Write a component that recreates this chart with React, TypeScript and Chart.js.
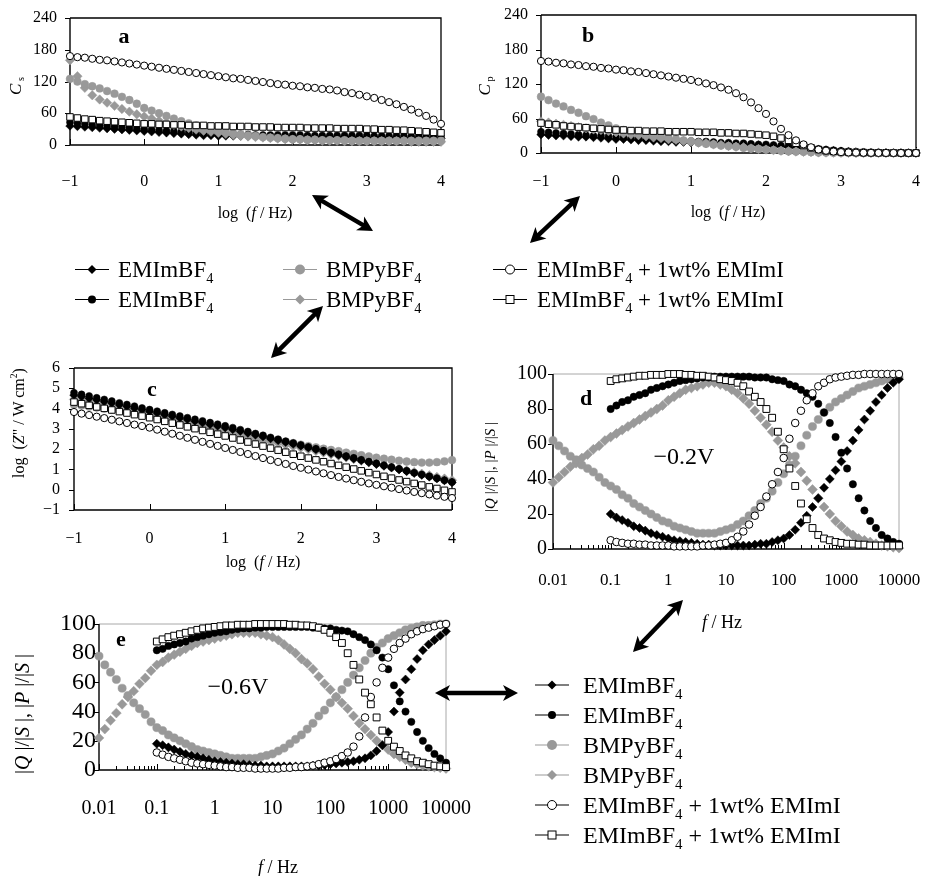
import React, { useEffect, useRef } from "react";
import { Chart, registerables } from "chart.js";
Chart.register(...registerables);

const SERIF = "'Liberation Serif', 'Times New Roman', Times, serif";
const GRAY = "#999999";

// ---------- frequency grids (log10 of f / Hz) ----------
const LOG_F = [
  -1, -0.9, -0.8, -0.7, -0.6, -0.5, -0.4, -0.3, -0.2, -0.1,
  0, 0.1, 0.2, 0.3, 0.4, 0.5, 0.6, 0.7, 0.8, 0.9,
  1, 1.1, 1.2, 1.3, 1.4, 1.5, 1.6, 1.7, 1.8, 1.9,
  2, 2.1, 2.2, 2.3, 2.4, 2.5, 2.6, 2.7, 2.8, 2.9,
  3, 3.1, 3.2, 3.3, 3.4, 3.5, 3.6, 3.7, 3.8, 3.9,
  4,
];
const LOG_F_LOW = [-2, -1.9, -1.8, -1.7, -1.6, -1.5, -1.4, -1.3, -1.2, -1.1];
const LOG_F_WIDE = [...LOG_F_LOW, ...LOG_F];

// ---------- tick labels ----------
const LOG_TICKS = [-1, 0, 1, 2, 3, 4];
const LOG_TICK_LABELS = ["\u22121", "0", "1", "2", "3", "4"];
const C_TICKS = [0, 60, 120, 180, 240];
const ZL_TICKS = [-1, 0, 1, 2, 3, 4, 5, 6];
const F_TICKS = [0.01, 0.1, 1, 10, 100, 1000, 10000];
const F_TICK_LABELS = ["0.01", "0.1", "1", "10", "100", "1000", "10000"];
const QS_TICKS = [0, 20, 40, 60, 80, 100];

// ---------- panel a : Cs ----------
const A_BLK_DIA = [36,35,34,33,32,31,30,29,28,27, 26,25,24,23,22,21,20,19,18,18, 17,17,17,17,17,17,17,16,16,16, 16,16,16,15,15,15,15,15,15,14, 14,14,14,14,13,13,13,13,12,12, 12];
const A_BLK_DOT = [43,41,40,38,37,36,35,34,33,31, 30,29,28,27,26,25,24,23,22,21, 21,20,20,20,20,19,19,19,19,19, 19,19,18,18,18,18,18,18,18,18, 18,17,17,17,17,17,16,16,16,16, 15];
const A_GRY_DOT = [125,120,115,111,107,102,97,91,85,78, 70,65,60,55,50,45,41,37,33,30, 27,25,22,20,18,17,15,14,13,12, 11,11,10,10,9,9,9,9,8,8, 8,8,8,8,8,8,8,8,8,8, 8];
const A_GRY_DIA = [160,130,108,94,86,80,74,68,63,58, 54,50,46,42,38,35,32,29,27,25, 23,21,19,17,16,15,14,13,12,11, 10,10,9,9,8,8,8,7,7,7, 7,7,7,7,7,7,6,6,6,6, 6];
const A_OPEN_CIRC = [168,166,165,163,161,160,158,156,154,152, 150,148,146,144,142,140,138,136,134,132, 130,128,126,125,123,121,119,117,115,114, 112,111,109,108,106,105,103,100,98,95, 92,89,85,81,77,72,67,61,55,48, 40];
const A_OPEN_SQ = [53,51,49,48,46,45,44,43,42,41, 40,40,39,39,38,38,37,37,37,36, 36,36,35,35,35,34,34,34,33,33, 33,33,32,32,32,32,31,31,31,31, 30,30,29,29,28,28,27,26,25,24, 23];

// ---------- panel b : Cp ----------
const B_BLK_DIA = [32,31,30,30,29,28,28,27,26,25, 24,24,23,22,22,21,20,20,19,19, 18,18,17,17,16,16,15,15,14,14, 13,12,11,10,9,8,7,6,5,4, 3,2.3,1.8,1.3,1,0.8,0.6,0.4,0.3,0.2, 0.1];
const B_BLK_DOT = [37,36,35,34,33,32,31,30,30,29, 28,27,26,26,25,24,23,23,22,21, 21,20,20,19,18,18,17,17,16,15, 15,14,13,12,11,10,8.5,7,6,5, 4,3,2.3,1.7,1.3,1,0.7,0.5,0.3,0.2, 0.1];
const B_GRY_DOT = [98,92,86,81,75,70,64,59,53,48, 43,40,37,35,32,30,28,26,24,22, 20,18,16,15,13,12,11,9,8,7, 6,5,4,3,2.5,2,1.5,1,0.8,0.5, 0.3,0.2,0.1,0,0,0,0,0,0,0, 0];
const B_GRY_DIA = [55,53,51,49,47,45,43,41,40,38, 36,34,32,31,29,27,26,24,23,21, 20,18,17,15,14,12,11,10,8,7, 6,5,4,3,2.5,2,1.5,1,0.8,0.5, 0.3,0.2,0.1,0,0,0,0,0,0,0, 0];
const B_OPEN_CIRC = [160,159,157,156,154,153,151,150,148,147, 145,144,142,141,139,137,135,133,131,129, 127,124,121,118,114,110,104,97,88,78, 68,55,42,31,22,15,10,6,4,2.5, 1.5,1,0.6,0.4,0.3,0.2,0.1,0.1,0,0, 0];
const B_OPEN_SQ = [52,50,49,47,46,45,44,43,42,41, 40,40,39,39,38,38,38,37,37,37, 37,36,36,36,35,35,34,34,33,32, 31,29,26,22,17,13,9,6,4,3, 2,1.5,1,0.7,0.5,0.4,0.3,0.2,0.1,0, 0];

// ---------- panel c : log Z'' ----------
const C_BLK_DIA = [4.66,4.58,4.50,4.42,4.34,4.26,4.18,4.10,4.02,3.94, 3.86,3.78,3.70,3.62,3.54,3.46,3.38,3.30,3.22,3.14, 3.06,2.97,2.88,2.79,2.70,2.61,2.52,2.43,2.34,2.25, 2.16,2.07,1.98,1.89,1.80,1.71,1.62,1.53,1.44,1.35, 1.26,1.17,1.08,0.99,0.90,0.81,0.72,0.63,0.54,0.45, 0.36];
const C_BLK_DOT = [4.78,4.70,4.62,4.53,4.45,4.37,4.28,4.20,4.12,4.03, 3.95,3.87,3.79,3.71,3.63,3.55,3.47,3.39,3.31,3.23, 3.15,3.06,2.96,2.87,2.77,2.68,2.58,2.49,2.39,2.30, 2.20,2.11,2.02,1.93,1.84,1.75,1.66,1.57,1.48,1.39, 1.30,1.21,1.12,1.03,0.94,0.84,0.75,0.66,0.57,0.47, 0.38];
const C_GRY_DOT = [4.20,4.15,4.10,4.05,4.00,3.95,3.90,3.85,3.80,3.75, 3.70,3.62,3.55,3.47,3.40,3.32,3.25,3.17,3.10,3.02, 2.95,2.88,2.80,2.73,2.66,2.59,2.51,2.44,2.37,2.30, 2.22,2.15,2.09,2.02,1.96,1.90,1.83,1.77,1.70,1.64, 1.58,1.53,1.48,1.43,1.39,1.36,1.34,1.34,1.36,1.40, 1.46];
const C_GRY_DIA = [4.45,4.37,4.29,4.21,4.13,4.05,3.97,3.89,3.81,3.73, 3.65,3.57,3.49,3.41,3.33,3.25,3.17,3.09,3.01,2.93, 2.85,2.77,2.69,2.61,2.53,2.45,2.37,2.30,2.22,2.14, 2.07,1.99,1.91,1.83,1.75,1.67,1.59,1.51,1.43,1.35, 1.27,1.19,1.11,1.03,0.95,0.87,0.79,0.71,0.63,0.55, 0.47];
const C_OPEN_CIRC = [3.83,3.75,3.68,3.60,3.53,3.45,3.37,3.29,3.21,3.14, 3.06,2.96,2.86,2.76,2.66,2.56,2.46,2.36,2.26,2.16, 2.06,1.96,1.86,1.76,1.66,1.56,1.46,1.37,1.27,1.17, 1.08,0.99,0.90,0.81,0.72,0.63,0.55,0.47,0.39,0.31, 0.24,0.17,0.10,0.03,-0.04,-0.11,-0.17,-0.23,-0.29,-0.35, -0.41];
const C_OPEN_SQ = [4.32,4.24,4.16,4.08,4.01,3.93,3.85,3.78,3.70,3.63, 3.55,3.46,3.37,3.28,3.19,3.10,3.01,2.92,2.83,2.74, 2.65,2.55,2.45,2.35,2.25,2.15,2.05,1.95,1.85,1.75, 1.65,1.56,1.47,1.38,1.29,1.20,1.11,1.02,0.93,0.84, 0.75,0.66,0.57,0.48,0.40,0.31,0.23,0.14,0.06,-0.03, -0.11];

// ---------- panel d : -0.2 V ----------
const D_BLK_DIA = [20,18,16.5,15,13,12,10.5,9,8,7, 6,5,4.5,4,3.5,3,2.5,2.5,2,2, 2,2,2,2,2,2.5,3,3,4,5, 6,8,11,15,19,24,29,35,40,45, 50,56,62,68,74,79,84,88,92,95, 97];
const D_BLK_DOT = [80,82,84,85,87,88,89,91,92,93, 94,95,96,96.5,97,97.5,98,98,98.5,98.5, 98.5,98.5,98.5,98.5,98.5,98,98,98,97,96.5, 96,94,93,91,89,87,83,78,72,64, 55,46,37,29,22,16,12,8,6,4, 3];
const D_GRY_DOT = [62,59,56,53,51,48,46,44,41,38, 36,34,31,29,26,24,22,20,18,16, 15,13,12,11,10,9,9,9,9,10, 11,12,14,16,19,22,26,29,33,38, 43,48,53,59,65,70,74,78,81,84, 86,88,90,92,93,94,95,96,97,98, 98];
const D_GRY_DIA = [38,41,44,47,49,52,54,57,59,62, 64,66,68,70,72,74,76,78,80,82, 85,87,89,91,92,93,94,95,95,94, 93,91,89,86,83,79,75,71,67,62, 58,53,49,44,39,34,29,24,20,16, 13,10,8,6,5,4,3,2,1.5,1, 0.5];
const D_OPEN_CIRC = [5,4,3.5,3,3,2.5,2.5,2,2,2, 2,1.5,1.5,1.5,1.5,1.5,2,2,2.5,3, 3.5,5,7,10,14,19,24,30,37,44, 52,63,72,79,85,89,93,95,97,98, 98.5,99,99.5,99.5,100,100,100,100,100,100, 100];
const D_OPEN_SQ = [96,97,97.5,98,98.5,99,99,99.5,99.5,99.5, 100,100,100,99.5,99.5,99,99,98.5,98,97, 96.5,96,95,93,90,87,84,80,75,67, 57,46,36,26,17,12,8,6,5,4, 3.5,3,3,2.5,2.5,2,2,2,2,2, 2];

// ---------- panel e : -0.6 V ----------
const E_BLK_DIA = [18,17,15.5,14,12.5,11,10,9,8,7, 6,5.5,5,4.5,4,4,3.5,3,3,2.5, 2.5,2.5,2.5,2.5,2.5,2.5,2.5,3,3,3.5, 4,4.5,5,5.5,6,7,8,10,13,17, 26,40,53,62,69,76,82,86,89,92, 95];
const E_BLK_DOT = [82,83,85,86,87,88,90,91,92,93, 94,94.5,95,96,96.5,97,97,97.5,97.5,98, 98,98,98,98,98,98,98,97.5,97.5,97, 97,96,95.5,95,93,91,89,86,82,77, 69,58,47,40,33,26,20,15,11,8, 5];
const E_GRY_DOT = [78,72,67,62,56,51,46,42,38,33, 29,27,24,22,20,18,16,14,13,12, 11,10,9,8,8,8,8,8,9,10, 11,13,15,18,21,24,28,32,37,41, 46,50,55,60,65,70,75,80,84,87, 90,92,94,96,97,98,99,99,99.5,100, 100];
const E_GRY_DIA = [22,28,34,39,45,50,54,59,63,68, 72,74,77,79,81,83,85,87,88,89, 90,91,92,93,94,94,94,94,93,92, 91,89,86,83,80,76,73,69,64,59, 55,50,46,42,37,32,28,24,20,17, 14,11,9,7,5,4,3,2.5,2,1.5, 1];
const E_OPEN_CIRC = [12,10.5,9,8,7,6,5,4.5,4,3.5, 3,2.5,2,2,1.5,1.5,1.5,1,1,1, 1,1,1.5,1.5,2,2,2.5,3,4,5, 6,7.5,9.5,12,16,23,36,50,60,70, 77,83,87,90,93,95,96.5,97.5,98.5,99.5, 100];
const E_OPEN_SQ = [88,89.5,91,92,93,94,95,96,97,97.5, 98,98.5,99,99,99.5,99.5,99.5,100,100,100, 100,100,100,99.5,99.5,99,99,98.5,97.5,96, 94,91,87,80,72,62,53,45,36,27, 20,16,13,10,8,6,5,4,3,2.5, 2];

// ---------- helpers ----------
type Kind = "blkDia" | "blkDot" | "gryDot" | "gryDia" | "openCirc" | "openSq";

interface Series { kind: Kind; x: number[]; y: number[] }

interface PanelSpec {
  id: string;
  l: number; t: number; w: number; h: number;
  yW: number; xH: number; padTop: number; padRight: number;
  xLog: boolean; xMin: number; xMax: number; xTicks: number[]; xLabels: string[];
  yMin: number; yMax: number; yTicks: number[];
  xFont: number; yFont: number; xPad: number; yPad: number;
  frameGray: boolean; mScale: number;
  series: Series[];
}

const toFreq = (arr: number[]) => arr.map((l) => Math.pow(10, l));

function markerProps(kind: Kind, s: number) {
  switch (kind) {
    case "blkDia":
      return { pointStyle: "rectRot", pointRadius: 4.3 * s, pointBackgroundColor: "#000", pointBorderColor: "#000", pointBorderWidth: 0.5 };
    case "blkDot":
      return { pointStyle: "circle", pointRadius: 3.5 * s, pointBackgroundColor: "#000", pointBorderColor: "#000", pointBorderWidth: 0.5 };
    case "gryDot":
      return { pointStyle: "circle", pointRadius: 3.9 * s, pointBackgroundColor: GRAY, pointBorderColor: GRAY, pointBorderWidth: 0.5 };
    case "gryDia":
      return { pointStyle: "rectRot", pointRadius: 4.7 * s, pointBackgroundColor: GRAY, pointBorderColor: GRAY, pointBorderWidth: 0.5 };
    case "openCirc":
      return { pointStyle: "circle", pointRadius: 3.6 * s, pointBackgroundColor: "#fff", pointBorderColor: "#000", pointBorderWidth: 1 };
    case "openSq":
    default:
      return { pointStyle: "rect", pointRadius: 4.6 * s, pointBackgroundColor: "#fff", pointBorderColor: "#000", pointBorderWidth: 1 };
  }
}

const fmtMinus = (v: number) => String(v).replace("-", "\u2212");

function framePlugin(s: PanelSpec) {
  return {
    id: "frame_" + s.id,
    beforeDatasetsDraw(chart: any) {
      const { ctx, chartArea } = chart;
      const { left, right, top, bottom } = chartArea;
      const xs = chart.scales.x;
      const ys = chart.scales.y;
      ctx.save();
      ctx.strokeStyle = s.frameGray ? "#a8a8a8" : "#000";
      ctx.lineWidth = s.frameGray ? 1 : 1.3;
      ctx.beginPath();
      ctx.moveTo(left, top);
      ctx.lineTo(right, top);
      ctx.lineTo(right, bottom);
      ctx.stroke();
      ctx.strokeStyle = "#000";
      ctx.lineWidth = 1.4;
      ctx.beginPath();
      ctx.moveTo(left, top);
      ctx.lineTo(left, bottom);
      ctx.lineTo(right, bottom);
      ctx.stroke();
      ctx.lineWidth = 1;
      ctx.beginPath();
      for (const v of s.yTicks) {
        const py = Math.round(ys.getPixelForValue(v)) + 0.5;
        ctx.moveTo(left - 5, py);
        ctx.lineTo(left, py);
      }
      for (const v of s.xTicks) {
        const px = Math.round(xs.getPixelForValue(v)) + 0.5;
        ctx.moveTo(px, bottom);
        ctx.lineTo(px, bottom - 6);
      }
      if (s.xLog) {
        for (let n = -2; n < 4; n++) {
          for (let k = 2; k < 10; k++) {
            const px = Math.round(xs.getPixelForValue(k * Math.pow(10, n))) + 0.5;
            ctx.moveTo(px, bottom);
            ctx.lineTo(px, bottom - 4);
          }
        }
      }
      ctx.stroke();
      ctx.restore();
    },
  };
}

function buildConfig(s: PanelSpec): any {
  const datasets = s.series.map((se) => ({
    data: se.x.map((x, i) => ({ x, y: se.y[i] })),
    showLine: false,
    clip: false,
    ...markerProps(se.kind, s.mScale),
  }));
  return {
    type: "scatter",
    data: { datasets },
    options: {
      responsive: false,
      animation: false,
      devicePixelRatio: 1,
      events: [],
      layout: { padding: { top: s.padTop, right: s.padRight, left: 0, bottom: 0 } },
      plugins: { legend: { display: false }, tooltip: { enabled: false }, title: { display: false } },
      scales: {
        x: {
          type: s.xLog ? "logarithmic" : "linear",
          min: s.xMin,
          max: s.xMax,
          grid: { display: false, drawTicks: false, tickLength: 0 },
          border: { display: false },
          afterBuildTicks: (sc: any) => {
            sc.ticks = s.xTicks.map((v) => ({ value: v }));
          },
          afterFit: (sc: any) => {
            sc.height = s.xH;
            sc.paddingLeft = 0;
            sc.paddingRight = 0;
          },
          ticks: {
            autoSkip: false,
            maxRotation: 0,
            minRotation: 0,
            padding: s.xPad,
            color: "#000",
            font: { family: SERIF, size: s.xFont },
            callback: (_v: any, i: number) => s.xLabels[i],
          },
        },
        y: {
          type: "linear",
          min: s.yMin,
          max: s.yMax,
          grid: { display: false, drawTicks: false, tickLength: 0 },
          border: { display: false },
          afterBuildTicks: (sc: any) => {
            sc.ticks = s.yTicks.map((v) => ({ value: v }));
          },
          afterFit: (sc: any) => {
            sc.width = s.yW;
            sc.paddingTop = 0;
            sc.paddingBottom = 0;
          },
          ticks: {
            autoSkip: false,
            padding: s.yPad,
            color: "#000",
            font: { family: SERIF, size: s.yFont },
            callback: (v: any) => fmtMinus(Number(v)),
          },
        },
      },
    },
    plugins: [framePlugin(s)],
  };
}

const FREQ = toFreq(LOG_F);
const FREQ_WIDE = toFreq(LOG_F_WIDE);

const PANELS: PanelSpec[] = [
  {
    id: "a", l: 20, t: 6, w: 431, h: 189, yW: 50, xH: 50, padTop: 12, padRight: 10,
    xLog: false, xMin: -1, xMax: 4, xTicks: LOG_TICKS, xLabels: LOG_TICK_LABELS,
    yMin: 0, yMax: 240, yTicks: C_TICKS, xFont: 16, yFont: 16, xPad: 27, yPad: 13,
    frameGray: false, mScale: 1,
    series: [
      { kind: "openCirc", x: LOG_F, y: A_OPEN_CIRC },
      { kind: "openSq", x: LOG_F, y: A_OPEN_SQ },
      { kind: "gryDot", x: LOG_F, y: A_GRY_DOT },
      { kind: "gryDia", x: LOG_F, y: A_GRY_DIA },
      { kind: "blkDot", x: LOG_F, y: A_BLK_DOT },
      { kind: "blkDia", x: LOG_F, y: A_BLK_DIA },
    ],
  },
  {
    id: "b", l: 491, t: 5, w: 434, h: 193, yW: 50, xH: 45, padTop: 10, padRight: 9,
    xLog: false, xMin: -1, xMax: 4, xTicks: LOG_TICKS, xLabels: LOG_TICK_LABELS,
    yMin: 0, yMax: 240, yTicks: C_TICKS, xFont: 16, yFont: 16, xPad: 19, yPad: 13,
    frameGray: false, mScale: 1,
    series: [
      { kind: "openCirc", x: LOG_F, y: B_OPEN_CIRC },
      { kind: "openSq", x: LOG_F, y: B_OPEN_SQ },
      { kind: "gryDot", x: LOG_F, y: B_GRY_DOT },
      { kind: "gryDia", x: LOG_F, y: B_GRY_DIA },
      { kind: "blkDot", x: LOG_F, y: B_BLK_DOT },
      { kind: "blkDia", x: LOG_F, y: B_BLK_DIA },
    ],
  },
  {
    id: "c", l: 29, t: 358, w: 433, h: 197, yW: 45, xH: 45, padTop: 10, padRight: 10,
    xLog: false, xMin: -1, xMax: 4, xTicks: LOG_TICKS, xLabels: LOG_TICK_LABELS,
    yMin: -1, yMax: 6, yTicks: ZL_TICKS, xFont: 16, yFont: 16, xPad: 19, yPad: 14,
    frameGray: false, mScale: 1,
    series: [
      { kind: "openCirc", x: LOG_F, y: C_OPEN_CIRC },
      { kind: "openSq", x: LOG_F, y: C_OPEN_SQ },
      { kind: "blkDot", x: LOG_F, y: C_BLK_DOT },
      { kind: "blkDia", x: LOG_F, y: C_BLK_DIA },
      { kind: "gryDot", x: LOG_F, y: C_GRY_DOT },
      { kind: "gryDia", x: LOG_F, y: C_GRY_DIA },
    ],
  },
  {
    id: "d", l: 503, t: 362, w: 422, h: 232, yW: 50, xH: 45, padTop: 12, padRight: 26,
    xLog: true, xMin: 0.01, xMax: 10000, xTicks: F_TICKS, xLabels: F_TICK_LABELS,
    yMin: 0, yMax: 100, yTicks: QS_TICKS, xFont: 17, yFont: 20, xPad: 21, yPad: 6,
    frameGray: true, mScale: 1.05,
    series: [
      { kind: "openSq", x: FREQ, y: D_OPEN_SQ },
      { kind: "openCirc", x: FREQ, y: D_OPEN_CIRC },
      { kind: "blkDot", x: FREQ, y: D_BLK_DOT },
      { kind: "blkDia", x: FREQ, y: D_BLK_DIA },
      { kind: "gryDot", x: FREQ_WIDE, y: D_GRY_DOT },
      { kind: "gryDia", x: FREQ_WIDE, y: D_GRY_DIA },
    ],
  },
  {
    id: "e", l: 44, t: 610, w: 428, h: 215, yW: 55, xH: 55, padTop: 14, padRight: 26,
    xLog: true, xMin: 0.01, xMax: 10000, xTicks: F_TICKS, xLabels: F_TICK_LABELS,
    yMin: 0, yMax: 100, yTicks: QS_TICKS, xFont: 20, yFont: 24, xPad: 27, yPad: 3,
    frameGray: true, mScale: 1.05,
    series: [
      { kind: "openSq", x: FREQ, y: E_OPEN_SQ },
      { kind: "openCirc", x: FREQ, y: E_OPEN_CIRC },
      { kind: "blkDot", x: FREQ, y: E_BLK_DOT },
      { kind: "blkDia", x: FREQ, y: E_BLK_DIA },
      { kind: "gryDot", x: FREQ_WIDE, y: E_GRY_DOT },
      { kind: "gryDia", x: FREQ_WIDE, y: E_GRY_DIA },
    ],
  },
];

function ChartPanel({ spec }: { spec: PanelSpec }) {
  const ref = useRef<HTMLCanvasElement>(null);
  useEffect(() => {
    const chart = new Chart(ref.current as HTMLCanvasElement, buildConfig(spec));
    return () => chart.destroy();
  }, [spec]);
  return (
    <canvas
      ref={ref}
      width={spec.w}
      height={spec.h}
      style={{ position: "absolute", left: spec.l, top: spec.t, width: spec.w, height: spec.h }}
    />
  );
}

// ---------- overlay text ----------
function T(props: { x: number; y: number; size: number; bold?: boolean; rot?: boolean; children: any }) {
  return (
    <div
      style={{
        position: "absolute",
        left: props.x,
        top: props.y,
        transform: `translate(-50%, -50%)${props.rot ? " rotate(-90deg)" : ""}`,
        fontSize: props.size,
        fontWeight: props.bold ? "bold" : "normal",
        whiteSpace: "nowrap",
        lineHeight: 1,
      }}
    >
      {props.children}
    </div>
  );
}

const Sub = ({ children }: { children: any }) => (
  <span style={{ fontSize: "0.62em", position: "relative", top: "0.4em" }}>{children}</span>
);

function LegendMarker({ kind }: { kind: Kind }) {
  const gray = kind === "gryDot" || kind === "gryDia";
  const c = gray ? GRAY : "#000";
  let m: any = null;
  if (kind === "blkDia" || kind === "gryDia")
    m = <polygon points={gray ? "17,3 22,8 17,13 12,8" : "17,3.5 21.5,8 17,12.5 12.5,8"} fill={c} />;
  else if (kind === "blkDot") m = <circle cx={17} cy={8} r={4} fill="#000" />;
  else if (kind === "gryDot") m = <circle cx={17} cy={8} r={5} fill={GRAY} />;
  else if (kind === "openCirc") m = <circle cx={17} cy={8} r={4.5} fill="#fff" stroke="#000" strokeWidth={1} />;
  else m = <rect x={13} y={4} width={8} height={8} fill="#fff" stroke="#000" strokeWidth={1} />;
  return (
    <svg width={34} height={16} style={{ display: "block", flex: "none" }}>
      <line x1={0} y1={8} x2={34} y2={8} stroke={c} strokeWidth={1.2} />
      {m}
    </svg>
  );
}

const LBL_EMIM = (
  <>
    EMImBF<Sub>4</Sub>
  </>
);
const LBL_BMPY = (
  <>
    BMPyBF<Sub>4</Sub>
  </>
);
const LBL_MIX = (
  <>
    EMImBF<Sub>4</Sub> + 1wt% EMImI
  </>
);

function LegendItem(props: { x: number; y: number; kind: Kind; gap: number; size: number; children: any }) {
  return (
    <div
      style={{
        position: "absolute",
        left: props.x,
        top: props.y,
        transform: "translateY(-50%)",
        display: "flex",
        alignItems: "center",
        whiteSpace: "nowrap",
        fontSize: props.size,
        lineHeight: 1,
      }}
    >
      <LegendMarker kind={props.kind} />
      <span style={{ marginLeft: props.gap }}>{props.children}</span>
    </div>
  );
}

function Arrow({ x1, y1, x2, y2 }: { x1: number; y1: number; x2: number; y2: number }) {
  const dx = x2 - x1;
  const dy = y2 - y1;
  const L = Math.hypot(dx, dy);
  const ux = dx / L;
  const uy = dy / L;
  const px = -uy;
  const py = ux;
  const hl = 15;
  const hw = 8;
  const head = (tx: number, ty: number, sx: number, sy: number) => {
    const bx = tx - sx * hl;
    const by = ty - sy * hl;
    return `${tx},${ty} ${bx + px * hw},${by + py * hw} ${bx + sx * 4},${by + sy * 4} ${bx - px * hw},${by - py * hw}`;
  };
  return (
    <g>
      <line x1={x1 + ux * 10} y1={y1 + uy * 10} x2={x2 - ux * 10} y2={y2 - uy * 10} stroke="#000" strokeWidth={4.5} />
      <polygon points={head(x2, y2, ux, uy)} fill="#000" />
      <polygon points={head(x1, y1, -ux, -uy)} fill="#000" />
    </g>
  );
}

export default function App() {
  return (
    <div
      style={{
        position: "absolute",
        left: 0,
        top: 0,
        width: 925,
        height: 876,
        background: "#fff",
        fontFamily: SERIF,
        color: "#000",
        overflow: "hidden",
      }}
    >
      {PANELS.map((p) => (
        <ChartPanel key={p.id} spec={p} />
      ))}

      <svg width={925} height={876} style={{ position: "absolute", left: 0, top: 0, pointerEvents: "none" }}>
        <Arrow x1={312} y1={195} x2={373} y2={231} />
        <Arrow x1={530} y1={243} x2={580} y2={196} />
        <Arrow x1={271} y1={358} x2={323} y2={306} />
        <Arrow x1={633} y1={652} x2={683} y2={600} />
        <Arrow x1={435} y1={693} x2={518} y2={693} />
      </svg>

      {/* panel letters */}
      <T x={124} y={36} size={22} bold>a</T>
      <T x={588} y={35} size={22} bold>b</T>
      <T x={152} y={389} size={22} bold>c</T>
      <T x={586} y={398} size={22} bold>d</T>
      <T x={121} y={639} size={22} bold>e</T>

      <T x={684} y={456} size={24}>{"\u22120.2V"}</T>
      <T x={238} y={686} size={24}>{"\u22120.6V"}</T>

      {/* axis titles */}
      <T x={255} y={213} size={16}>log{"\u00a0"} (<i>f</i> / Hz)</T>
      <T x={728} y={212} size={16}>log{"\u00a0"} (<i>f</i> / Hz)</T>
      <T x={263} y={562} size={16}>log{"\u00a0"} (<i>f</i> / Hz)</T>
      <T x={722} y={622} size={18}><i>f</i> / Hz</T>
      <T x={278} y={867} size={18}><i>f</i> / Hz</T>

      <T x={15} y={86} size={17} rot>
        <i>C</i>
        <span style={{ fontSize: "0.6em", position: "relative", top: "0.3em" }}> s</span>
      </T>
      <T x={484} y={86} size={17} rot>
        <i>C</i>
        <span style={{ fontSize: "0.6em", position: "relative", top: "0.3em" }}> p</span>
      </T>
      <T x={18} y={423} size={16} rot>
        log{"\u00a0"} (<i>Z</i>" / W cm<sup style={{ fontSize: "0.6em" }}>2</sup>)
      </T>
      <T x={490} y={467} size={15} rot>
        |<i>Q</i> |/|<i>S</i> |, |<i>P</i> |/|<i>S</i> |
      </T>
      <T x={22} y={714} size={20} rot>
        |<i>Q</i> |/|<i>S</i> |, |<i>P</i> |/|<i>S</i> |
      </T>

      {/* legend top */}
      <LegendItem x={75} y={269} kind="blkDia" gap={9} size={23}>{LBL_EMIM}</LegendItem>
      <LegendItem x={75} y={299} kind="blkDot" gap={9} size={23}>{LBL_EMIM}</LegendItem>
      <LegendItem x={283} y={269} kind="gryDot" gap={9} size={23}>{LBL_BMPY}</LegendItem>
      <LegendItem x={283} y={299} kind="gryDia" gap={9} size={23}>{LBL_BMPY}</LegendItem>
      <LegendItem x={493} y={269} kind="openCirc" gap={10} size={23}>{LBL_MIX}</LegendItem>
      <LegendItem x={493} y={299} kind="openSq" gap={10} size={23}>{LBL_MIX}</LegendItem>

      {/* legend bottom right */}
      <LegendItem x={535} y={685} kind="blkDia" gap={14} size={24}>{LBL_EMIM}</LegendItem>
      <LegendItem x={535} y={715} kind="blkDot" gap={14} size={24}>{LBL_EMIM}</LegendItem>
      <LegendItem x={535} y={745} kind="gryDot" gap={14} size={24}>{LBL_BMPY}</LegendItem>
      <LegendItem x={535} y={775} kind="gryDia" gap={14} size={24}>{LBL_BMPY}</LegendItem>
      <LegendItem x={535} y={805} kind="openCirc" gap={14} size={24}>{LBL_MIX}</LegendItem>
      <LegendItem x={535} y={835} kind="openSq" gap={14} size={24}>{LBL_MIX}</LegendItem>
    </div>
  );
}
